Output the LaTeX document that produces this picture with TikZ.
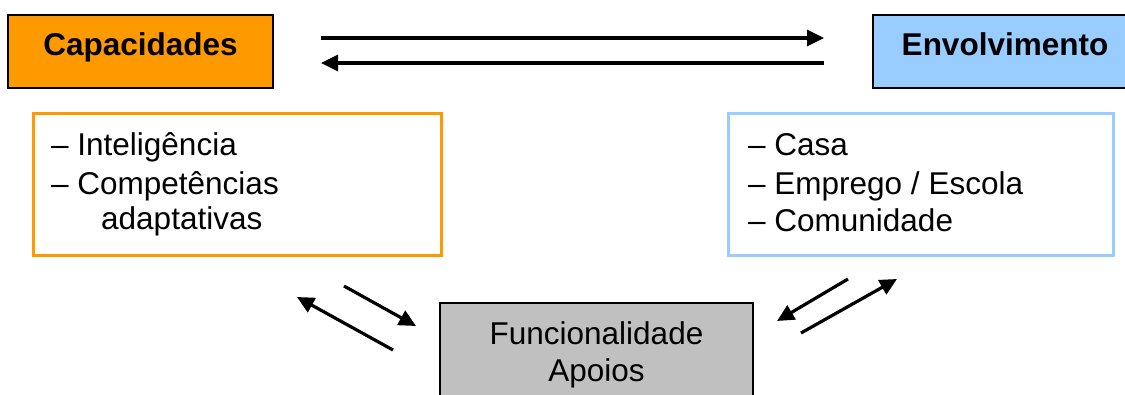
\documentclass[tikz,border=0pt]{standalone}
\usepackage{fontspec}
\setmainfont{Liberation Sans}
\usetikzlibrary{arrows.meta}
\definecolor{orangefill}{HTML}{FF9900}
\definecolor{bluefill}{HTML}{99CCFF}
\definecolor{grayfill}{HTML}{C0C0C0}
\tikzset{
  headbox/.style={draw=black, line width=1.6pt, inner sep=0pt},
  listbox/.style={line width=3pt, inner sep=0pt, fill=white},
  txt/.style={inner sep=0pt, font=\fontsize{31.5}{36}\selectfont},
  btxt/.style={inner sep=0pt, font=\fontsize{31.5}{36}\selectfont\bfseries},
  arr/.style={line width=3.2pt, -{Triangle[length=17pt,width=16pt]}},
}
\begin{document}
\begin{tikzpicture}[x=1pt,y=-1pt]
\useasboundingbox (0,0) rectangle (1125,394);
% header boxes
\node[headbox, fill=orangefill, minimum width=265pt, minimum height=73pt] (cap) at (140.5,51.5) {};
\node[btxt, anchor=base] (captxt) at (140.5,55) {Capacidades};
\node[headbox, fill=bluefill, minimum width=264pt, minimum height=73pt] (env) at (1005,51.5) {};
\node[btxt, anchor=base] (envtxt) at (1005,55) {Envolvimento};
% list boxes
\node[listbox, draw=orangefill, minimum width=408pt, minimum height=142pt] (caplist) at (237,184) {};
\node[txt, anchor=base west] (c1) at (51,155) {– Inteligência};
\node[txt, anchor=base west] (c2) at (51,194) {– Competências};
\node[txt, anchor=base west] (c3) at (101,229) {adaptativas};
\node[listbox, draw=bluefill, minimum width=385pt, minimum height=142pt] (envlist) at (920.5,184) {};
\node[txt, anchor=base west] (e1) at (748,155) {– Casa};
\node[txt, anchor=base west] (e2) at (748,194) {– Emprego / Escola};
\node[txt, anchor=base west] (e3) at (748,231) {– Comunidade};
% bottom box
\node[headbox, fill=grayfill, minimum width=313pt, minimum height=120pt] (func) at (596.5,363) {};
\node[txt, anchor=base] (f1) at (596.5,344) {Funcionalidade};
\node[txt, anchor=base] (f2) at (596.5,381) {Apoios};
% arrow end points
\coordinate (t1s) at (321,38);
\coordinate (t1e) at (824,38);
\coordinate (t2s) at (824,63);
\coordinate (t2e) at (321,63);
\coordinate (l1s) at (344,286);
\coordinate (l1e) at (416,326);
\coordinate (l2s) at (393,350);
\coordinate (l2e) at (297,297);
\coordinate (r1s) at (848,279);
\coordinate (r1e) at (777,321);
\coordinate (r2s) at (801,333);
\coordinate (r2e) at (897,279);
\draw[arr] (t1s) -- (t1e);
\draw[arr] (t2s) -- (t2e);
\draw[arr] (l1s) -- (l1e);
\draw[arr] (l2s) -- (l2e);
\draw[arr] (r1s) -- (r1e);
\draw[arr] (r2s) -- (r2e);
\end{tikzpicture}
\end{document}
